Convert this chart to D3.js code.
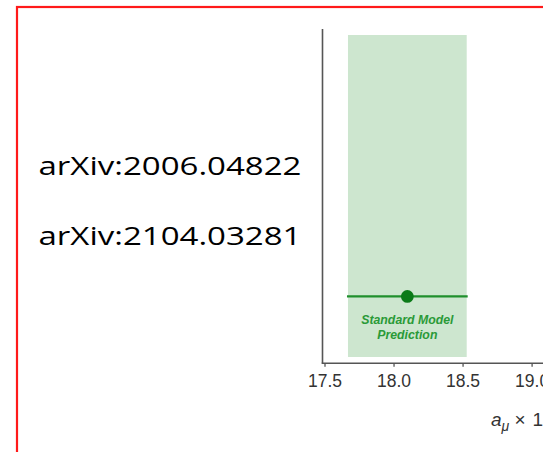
<!DOCTYPE html>
<html><head><meta charset="utf-8">
<script src="https://cdn.jsdelivr.net/npm/d3@7"></script>
<style>html,body{margin:0;padding:0;background:#fff;overflow:hidden}</style>
</head><body>
<script>
// ---- data ----
const references = ["arXiv:2006.04822", "arXiv:2104.03281"];
const xTicks = [17.5, 18.0, 18.5, 19.0];
const seriesNames = ["Standard Model"];
const seriesLabels = [["Standard Model", "Prediction"]];
const centralValues = [18.10];
const uncertainties = [0.43];

const W = 543, H = 452;
const svg = d3.select("body").append("svg").attr("width", W).attr("height", H)
  .style("display", "block");

// red frame (extends beyond the visible area)
svg.append("rect").attr("x", 17).attr("y", 7).attr("width", 600).attr("height", 500)
  .attr("fill", "none").attr("stroke", "#ff1a1a").attr("stroke-width", 2.2);

// scales
const x = d3.scaleLinear().domain([17.5, 19.0]).range([324.5, 531.6]);
const y = d3.scaleBand().domain(seriesNames).range([35, 357]).paddingInner(0);
const yPos = d3.scaleLinear().domain([0, 1]).range([357, 35]);

// band (1 sigma)
svg.selectAll("rect.band").data(seriesNames).join("rect").attr("class", "band")
  .attr("x", (d, i) => x(centralValues[i] - uncertainties[i]))
  .attr("width", (d, i) => x(centralValues[i] + uncertainties[i]) - x(centralValues[i] - uncertainties[i]))
  .attr("y", d => y(d)).attr("height", y.bandwidth())
  .attr("fill", "#cde6cf");

// error bar
const rowY = yPos(0.188);
svg.selectAll("line.err").data(seriesNames).join("line").attr("class", "err")
  .attr("x1", (d, i) => x(centralValues[i] - uncertainties[i]) - 1)
  .attr("x2", (d, i) => x(centralValues[i] + uncertainties[i]) + 1)
  .attr("y1", rowY).attr("y2", rowY)
  .attr("stroke", "#1f8f2c").attr("stroke-width", 2.2);
svg.selectAll("circle.pt").data(seriesNames).join("circle").attr("class", "pt")
  .attr("cx", (d, i) => x(centralValues[i])).attr("cy", rowY).attr("r", 6.4)
  .attr("fill", "#0b7a18");

// label
const lab = svg.append("text").attr("text-anchor", "middle")
  .attr("font-family", "'Liberation Sans Narrow', 'Arial Narrow', 'Liberation Sans', sans-serif")
  .attr("font-weight", "bold").attr("font-style", "italic")
  .attr("font-size", 12.3).attr("fill", "#2a9a38");
seriesLabels[0].forEach((t, k) => {
  lab.append("tspan").attr("x", x(centralValues[0])).attr("y", 324 + k * 15.3).text(t);
});

// axes
const axisColor = "#555";
svg.append("line").attr("x1", 322.5).attr("x2", 322.5).attr("y1", 29).attr("y2", 363.5)
  .attr("stroke", axisColor).attr("stroke-width", 1.6);

const gx = svg.append("g").attr("transform", "translate(0,363.3)")
  .call(d3.axisBottom(x).tickValues(xTicks).tickFormat(d3.format(".1f")).tickSize(3.5).tickSizeOuter(0).tickPadding(6));
gx.select(".domain").attr("d", "M321.7,0H600").attr("stroke", axisColor).attr("stroke-width", 1.6);
gx.selectAll(".tick line").attr("stroke", axisColor).attr("stroke-width", 1.3);
gx.selectAll(".tick text").attr("font-family", "'Liberation Sans', Arial, sans-serif")
  .attr("font-size", 17.5).attr("fill", "#333").attr("dy", "0").attr("y", 23.5);

// axis title
const title = svg.append("text").attr("x", 491).attr("y", 425.5)
  .attr("font-family", "'Liberation Sans', Arial, sans-serif").attr("font-size", 19).attr("fill", "#333");
title.append("tspan").attr("font-style", "italic").text("a");
title.append("tspan").attr("font-style", "italic").attr("font-size", 14).attr("dy", 5).text("μ");
title.append("tspan").attr("dy", -5).text(" × ");
title.append("tspan").attr("dx", 1.5).text("10");
title.append("tspan").attr("font-size", 12).attr("dy", -8).text("9");
title.append("tspan").attr("dy", 8).text(" − 1165900");

// references
svg.selectAll("text.ref").data(references).join("text").attr("class", "ref")
  .attr("x", 38.5).attr("y", (d, i) => 175 + i * 70)
  .attr("font-family", "'Open Sans', Lato, sans-serif").attr("font-size", 25.5)
  .attr("fill", "#000")
  .attr("textLength", 263).attr("lengthAdjust", "spacingAndGlyphs")
  .text(d => d);
</script>
</body></html>
